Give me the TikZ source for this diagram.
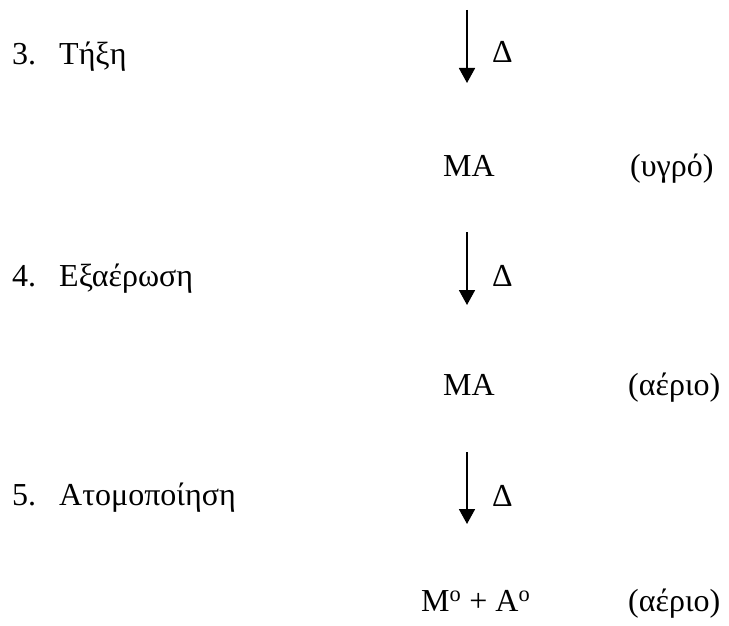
\documentclass[tikz,border=0pt]{standalone}
\usepackage{fontspec}
\setmainfont{Liberation Serif}
\usetikzlibrary{arrows.meta}
\tikzset{
  txt/.style={inner sep=0pt, anchor=base west, font=\fontsize{32}{38}\selectfont},
  heatarrow/.style={line width=1.8pt, -{Triangle[width=16pt,length=15pt]}}
}
\begin{document}
\begin{tikzpicture}[x=1pt,y=-1pt]
\useasboundingbox (0,0) rectangle (729,626);
% row 3
\node[txt] (n3) at (12,65) {3.};
\node[txt] (s3) at (59,65) {Τήξη};
\coordinate (a3s) at (467,10);
\coordinate (a3e) at (467,83);
\draw[heatarrow] (a3s) -- (a3e);
\node[txt] (d3) at (492,63) {Δ};
\node[txt] (p3) at (443,176) {MA};
\node[txt] (q3) at (630,176) {(υγρό)};
% row 4
\node[txt] (n4) at (12,286) {4.};
\node[txt] (s4) at (59,286) {Εξαέρωση};
\coordinate (a4s) at (467,232);
\coordinate (a4e) at (467,305);
\draw[heatarrow] (a4s) -- (a4e);
\node[txt] (d4) at (492,286) {Δ};
\node[txt] (p4) at (443,395) {MA};
\node[txt] (q4) at (628,395) {(αέριο)};
% row 5
\node[txt] (n5) at (12,505) {5.};
\node[txt] (s5) at (59,505) {Ατομοποίηση};
\coordinate (a5s) at (467,452);
\coordinate (a5e) at (467,524);
\draw[heatarrow] (a5s) -- (a5e);
\node[txt] (d5) at (492,506) {Δ};
\node[txt] (p5) at (421,611) {M\textsuperscript{o} + A\textsuperscript{o}};
\node[txt] (q5) at (628,611) {(αέριο)};
\end{tikzpicture}
\end{document}
